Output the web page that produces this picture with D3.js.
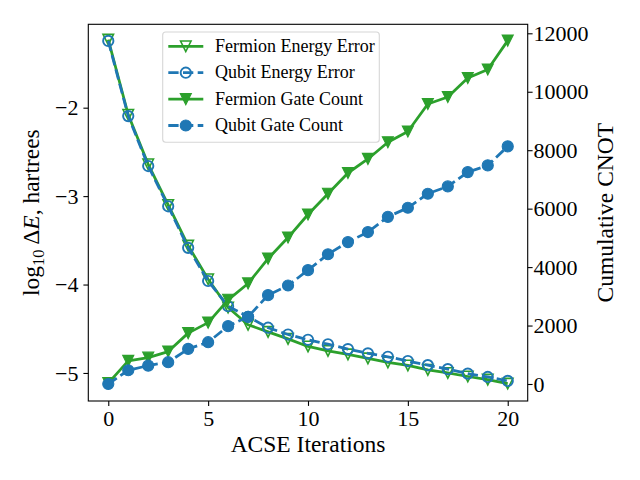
<!DOCTYPE html>
<html><head><meta charset="utf-8">
<script src="https://cdn.jsdelivr.net/npm/d3@7"></script>
<style>body{margin:0;background:#fff}svg{display:block}</style>
</head><body>
<svg id="c" width="640" height="480"></svg>
<script>
// ---- data ----
const iterations = [0,1,2,3,4,5,6,7,8,9,10,11,12,13,14,15,16,17,18,19,20];
const fermionEnergy = [-1.23,-2.08,-2.64,-3.10,-3.56,-3.94,-4.26,-4.455,-4.535,-4.615,-4.70,-4.75,-4.79,-4.835,-4.88,-4.915,-4.965,-5.00,-5.04,-5.075,-5.12];
const qubitEnergy = [-1.245,-2.095,-2.66,-3.115,-3.585,-3.96,-4.245,-4.365,-4.488,-4.565,-4.625,-4.675,-4.73,-4.778,-4.817,-4.865,-4.912,-4.957,-5.007,-5.045,-5.09];
const fermionGates = [30,790,900,1110,1740,2100,2880,3440,4290,5010,5800,6510,7220,7700,8270,8640,9580,9820,10470,10760,11750];
const qubitGates = [0,470,630,745,1200,1430,1980,2300,3040,3370,3895,4440,4855,5200,5720,6030,6510,6760,7250,7480,8130];
const xTicks = [0,5,10,15,20];
const yLeftTicks = [-5,-4,-3,-2];
const yRightTicks = [0,2000,4000,6000,8000,10000,12000];
const legendLabels = ["Fermion Energy Error","Qubit Energy Error","Fermion Gate Count","Qubit Gate Count"];

// ---- layout ----
const FONT = "'Liberation Serif','Times New Roman',serif";
const GREEN = "#2ca02c", BLUE = "#1f77b4";
const L = 88.3, R = 527.7, T = 24.3, B = 401;
const svg = d3.select("#c");

const x = d3.scaleLinear().domain([-1, 21]).range([L, R]);
const yL = d3.scaleLinear().domain([-5.317, -1.057]).range([B, T]);
const yR = d3.scaleLinear().domain([-582, 12308]).range([B, T]);

const MS = 11.1;
function triPath(s){ const h=s/2; return `M0,${h}L${-h},${-h}L${h},${-h}Z`; }

const series = [
  {vals: fermionEnergy, y: yL, color: GREEN, dash: null, marker: "v", filled: false},
  {vals: qubitEnergy, y: yL, color: BLUE, dash: "10.3,4.4", marker: "o", filled: false},
  {vals: fermionGates, y: yR, color: GREEN, dash: null, marker: "v", filled: true},
  {vals: qubitGates, y: yR, color: BLUE, dash: "10.3,4.4", marker: "o", filled: true}
];

function drawMarker(g, m, filled, color){
  if (m === "o") {
    g.append("circle").attr("r", filled ? MS/2 : MS/2 - 0.4)
      .attr("fill", filled ? color : "none")
      .attr("stroke", color).attr("stroke-width", filled ? 1.1 : 1.9);
  } else {
    g.append("path").attr("d", triPath(filled ? MS : MS - 0.6))
      .attr("fill", filled ? color : "none")
      .attr("stroke", color).attr("stroke-width", filled ? 1.1 : 1.6)
      .attr("stroke-linejoin", "miter");
  }
}

const plot = svg.append("g");
series.forEach(s => {
  const line = d3.line().x((d,i) => x(iterations[i])).y(d => s.y(d));
  plot.append("path").datum(s.vals).attr("d", line)
    .attr("fill","none").attr("stroke", s.color).attr("stroke-width", 2.78)
    .attr("stroke-dasharray", s.dash).attr("stroke-linejoin","round");
  s.vals.forEach((v,i) => {
    const g = plot.append("g").attr("transform", `translate(${x(iterations[i])},${s.y(v)})`);
    drawMarker(g, s.marker, s.filled, s.color);
  });
});

// ---- axes ----
function styleAxis(g){
  g.select(".domain").remove();
  g.selectAll(".tick line").attr("stroke","#000").attr("stroke-width",1.1);
  g.selectAll(".tick text").attr("font-family",FONT).attr("font-size",22).attr("fill","#000");
}
const fmtMinus = d => (d < 0 ? "\u2212" + Math.abs(d) : String(d));
svg.append("g").attr("transform",`translate(0,${B})`)
  .call(d3.axisBottom(x).tickValues(xTicks).tickSize(4.9).tickPadding(4.5).tickFormat(d=>String(d)))
  .call(styleAxis);
svg.append("g").attr("transform",`translate(${L},0)`)
  .call(d3.axisLeft(yL).tickValues(yLeftTicks).tickSize(4.9).tickPadding(4.9).tickFormat(fmtMinus))
  .call(styleAxis);
svg.append("g").attr("transform",`translate(${R},0)`)
  .call(d3.axisRight(yR).tickValues(yRightTicks).tickSize(4.9).tickPadding(1.0).tickFormat(d=>String(d)))
  .call(styleAxis);

// frame
svg.append("rect").attr("x",L).attr("y",T).attr("width",R-L).attr("height",B-T)
  .attr("fill","none").attr("stroke","#000").attr("stroke-width",1.1);

// axis labels
svg.append("text").attr("x",(L+R)/2).attr("y",452).attr("text-anchor","middle")
  .attr("font-family",FONT).attr("font-size",23.5).text("ACSE Iterations");
svg.append("text").attr("transform",`translate(613,${(T+B)/2}) rotate(-90)`)
  .attr("text-anchor","middle").attr("font-family",FONT).attr("font-size",23.5).text("Cumulative CNOT");
const yl = svg.append("text").attr("transform",`translate(38.5,${(T+B)/2}) rotate(-90)`)
  .attr("text-anchor","middle").attr("font-family",FONT).attr("font-size",23.5);
yl.append("tspan").text("log");
yl.append("tspan").attr("dy",5).attr("font-size",16.5).text("10");
yl.append("tspan").attr("dy",-5).text("\u2009\u0394");
yl.append("tspan").attr("font-style","italic").text("E");
yl.append("tspan").text(", hartrees");

// ---- legend ----
const lg = svg.append("g");
lg.append("rect").attr("x",162.7).attr("y",32).attr("width",216.6).attr("height",110.3).attr("rx",3)
  .attr("fill","#fff").attr("fill-opacity",0.8).attr("stroke","#d6d6d6").attr("stroke-width",1.1);
series.forEach((s,i) => {
  const cy = 46.3 + i*26.4;
  lg.append("line").attr("x1",168.3).attr("x2",203.3).attr("y1",cy).attr("y2",cy)
    .attr("stroke",s.color).attr("stroke-width",2.78).attr("stroke-dasharray",s.dash);
  const g = lg.append("g").attr("transform",`translate(185.8,${cy})`);
  drawMarker(g, s.marker, s.filled, s.color);
  lg.append("text").attr("x",215).attr("y",cy+5.5).attr("font-family",FONT).attr("font-size",18)
    .text(legendLabels[i]);
});
</script>
</body></html>
